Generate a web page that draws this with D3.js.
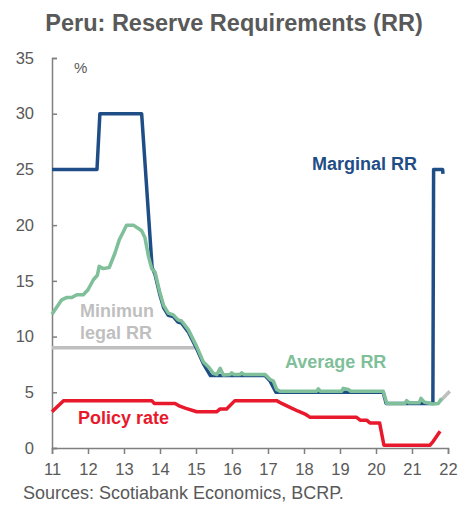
<!DOCTYPE html>
<html>
<head>
<meta charset="utf-8">
<script src="https://cdn.jsdelivr.net/npm/d3@7"></script>
<style>
  body { margin: 0; background: #fff; }
  text { font-family: "Liberation Sans", Arial, sans-serif; }
</style>
</head>
<body>
<div id="chart"></div>
<script>
// Peru reserve requirements, % (x = year, 11 = 2011)
let marginalRR = [
  [11.0, 25], [12.25, 25], [12.33, 30], [13.49, 30], [13.78, 16.2],
  [13.86, 15.6], [14.0, 13.7], [14.1, 12.6], [14.23, 11.9], [14.37, 11.8],
  [14.5, 11.3], [14.6, 11.2], [14.79, 10.4], [15.02, 8.9], [15.2, 7.6],
  [15.4, 6.5], [16.92, 6.5], [17.06, 6.0], [17.22, 5.0], [20.2, 5.0],
  [20.28, 4.0], [21.58, 4.0], [21.6, 25], [21.85, 25], [21.86, 24.6]
];

let averageRR = [
  [11.0, 12.0], [11.27, 13.3], [11.4, 13.5], [11.55, 13.5], [11.69, 13.75],
  [11.87, 13.75], [12.0, 14.2], [12.15, 15.1], [12.26, 15.5], [12.31, 16.3],
  [12.42, 16.1], [12.59, 16.2], [12.75, 17.5], [12.87, 18.7], [12.95, 19.2],
  [13.07, 20.0], [13.26, 20.0], [13.4, 19.7], [13.49, 19.5], [13.58, 18.9],
  [13.68, 17.2], [13.77, 16.1], [13.86, 15.8], [14.0, 13.9], [14.1, 12.8],
  [14.23, 12.1], [14.37, 11.95], [14.5, 11.5], [14.6, 11.4], [14.79, 10.6],
  [15.02, 9.1], [15.2, 7.75], [15.34, 7.3], [15.48, 6.7], [15.58, 6.6],
  [15.67, 7.15], [15.76, 6.55], [15.95, 6.6], [15.99, 6.75], [16.05, 6.6],
  [16.22, 6.6], [16.27, 6.75], [16.33, 6.6], [16.92, 6.6], [17.06, 6.15],
  [17.15, 6.0], [17.24, 5.25], [17.33, 5.1], [18.35, 5.1], [18.4, 5.3],
  [18.45, 5.1], [19.05, 5.1], [19.09, 5.35], [19.23, 5.25], [19.3, 5.1],
  [20.2, 5.1], [20.3, 4.0], [20.8, 4.0], [20.85, 4.25], [20.92, 4.05],
  [21.2, 4.05], [21.25, 4.45], [21.35, 4.1], [21.59, 3.95], [21.73, 4.0],
  [21.82, 4.45]
];

let minLegalRR = [
  [11.0, 9], [15.0, 9], [15.0, null], [21.78, 4.2], [22.05, 5.1]
];

let policyRate = [
  [11.0, 3.25], [11.32, 4.25], [13.77, 4.25], [13.84, 4.0], [14.42, 4.0],
  [14.55, 3.75], [14.72, 3.55], [15.02, 3.25], [15.57, 3.25], [15.67, 3.5],
  [15.85, 3.5], [16.08, 4.25], [17.24, 4.25], [17.38, 4.0], [17.61, 3.65],
  [17.84, 3.3], [18.03, 3.05], [18.17, 2.75], [19.46, 2.75], [19.56, 2.5],
  [19.74, 2.5], [19.83, 2.25], [20.1, 2.25], [20.22, 0.25], [21.5, 0.25],
  [21.59, 0.6], [21.78, 1.5]
];

let xTicks = [11, 12, 13, 14, 15, 16, 17, 18, 19, 20, 21, 22];
let yTicks = [0, 5, 10, 15, 20, 25, 30, 35];

let colors = {
  navy: '#1f4e86',
  green: '#7fbf99',
  red: '#e8192c',
  gray: '#bfbfbf',
  text: '#595959',
  axis: '#7f7f7f'
};

let width = 459;
let height = 505;

let svg = d3.select('#chart').append('svg')
  .attr('width', width)
  .attr('height', height);

let x = d3.scaleLinear().domain([11, 22]).range([52, 448]);
let y = d3.scaleLinear().domain([0, 35]).range([448, 58]);

// title
svg.append('text')
  .attr('x', 234)
  .attr('y', 31)
  .attr('text-anchor', 'middle')
  .style('font-size', '23.5px')
  .style('font-weight', 'bold')
  .style('fill', colors.text)
  .text('Peru: Reserve Requirements (RR)');

// axes
let yAxis = d3.axisLeft(y).tickValues(yTicks).tickSize(-5).tickPadding(18);
let xAxis = d3.axisBottom(x).tickValues(xTicks).tickSize(6).tickPadding(9).tickFormat(d3.format('d'));

let gy = svg.append('g').attr('transform', 'translate(52,0)').call(yAxis);
let gx = svg.append('g').attr('transform', 'translate(0,448)').call(xAxis);

[gx, gy].forEach((g) => {
  g.select('.domain').attr('stroke', colors.axis).attr('stroke-width', 1.5);
  g.selectAll('.tick line').attr('stroke', colors.axis).attr('stroke-width', 1.5);
  g.selectAll('.tick text')
    .style('font-size', '16.5px')
    .style('font-family', '"Liberation Sans", Arial, sans-serif')
    .attr('fill', colors.text);
});

// lines
let line = d3.line()
  .defined((d) => d[1] !== null)
  .x((d) => x(d[0]))
  .y((d) => y(d[1]));

let drawLine = (data, color) => {
  svg.append('path')
    .datum(data)
    .attr('d', line)
    .attr('fill', 'none')
    .attr('stroke', color)
    .attr('stroke-width', 3.5)
    .attr('stroke-linejoin', 'round');
};

drawLine(minLegalRR, colors.gray);
drawLine(policyRate, colors.red);
drawLine(marginalRR, colors.navy);
drawLine(averageRR, colors.green);

// labels
let label = (txt, lx, ly, color, size) => {
  svg.append('text')
    .attr('x', lx)
    .attr('y', ly)
    .style('font-size', size || '18px')
    .style('font-weight', 'bold')
    .style('fill', color)
    .text(txt);
};

svg.append('text')
  .attr('x', 74)
  .attr('y', 73)
  .style('font-size', '15px')
  .style('fill', colors.text)
  .text('%');

label('Marginal RR', 312, 170, colors.navy);
label('Average RR', 285, 368, colors.green);
label('Minimun', 80, 317, colors.gray);
label('legal RR', 80, 339, colors.gray);
label('Policy rate', 78, 424, colors.red);

svg.append('text')
  .attr('x', 23)
  .attr('y', 499)
  .style('font-size', '18px')
  .style('fill', colors.text)
  .text('Sources: Scotiabank Economics, BCRP.');
</script>
</body>
</html>
